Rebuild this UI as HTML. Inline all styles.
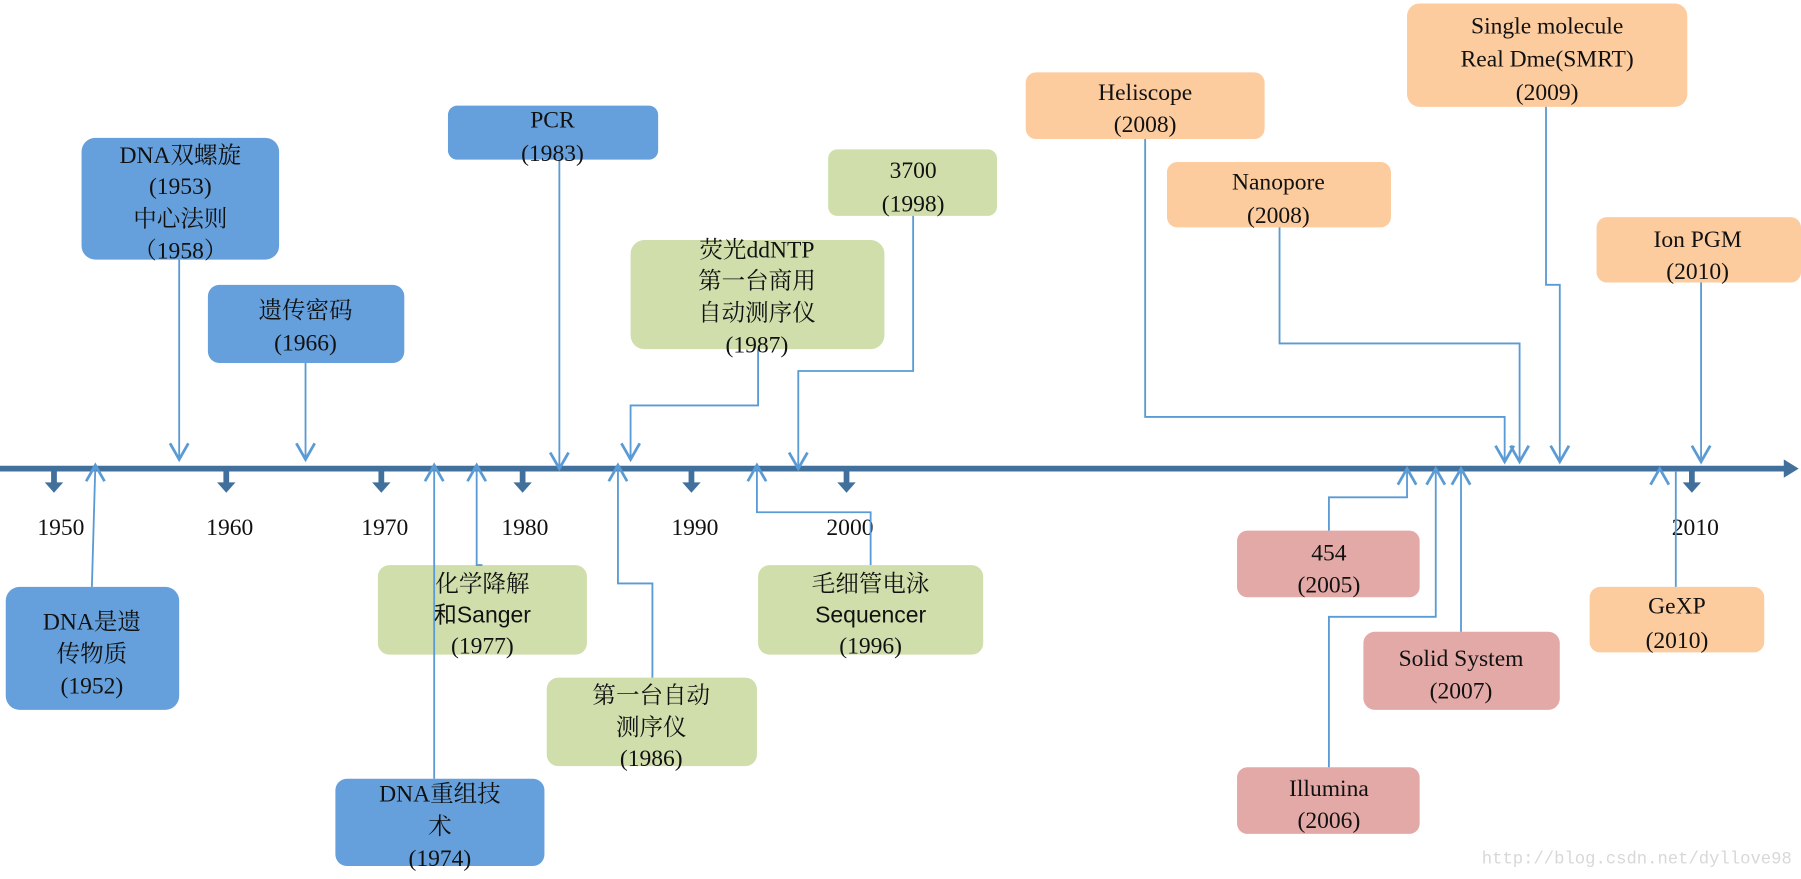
<!DOCTYPE html>
<html><head><meta charset="utf-8">
<style>
html,body{margin:0;padding:0;background:#fff;}
svg{display:block;}
.s{font-family:"Liberation Serif","Noto Serif CJK SC","Noto Sans CJK SC",serif;font-size:20.5px;fill:#111;text-anchor:middle;}
.c{font-family:"Liberation Sans","Noto Sans CJK SC",sans-serif;font-size:20px;fill:#111;text-anchor:middle;}
.ln{fill:none;stroke:#5b9bd5;stroke-width:1.6;}
.ah{fill:none;stroke:#5b9bd5;stroke-width:2.4;}
</style></head>
<body>
<svg width="1801" height="879" viewBox="0 0 1568 765.3" preserveAspectRatio="none" xmlns="http://www.w3.org/2000/svg">
<rect width="1568" height="766" fill="#fff"/>
<g>
<rect x="71" y="120" width="172" height="106" rx="12" fill="#65a0dc"/>
<rect x="181" y="248" width="171" height="68" rx="10" fill="#65a0dc"/>
<rect x="390" y="92" width="183" height="47" rx="8" fill="#65a0dc"/>
<rect x="5" y="511" width="151" height="107" rx="12" fill="#65a0dc"/>
<rect x="292" y="678" width="182" height="76" rx="10" fill="#65a0dc"/>
<rect x="329" y="492" width="182" height="78" rx="10" fill="#d0deac"/>
<rect x="476" y="590" width="183" height="77" rx="10" fill="#d0deac"/>
<rect x="549" y="209" width="221" height="95" rx="12" fill="#d0deac"/>
<rect x="721" y="130" width="147" height="58" rx="8" fill="#d0deac"/>
<rect x="660" y="492" width="196" height="78" rx="10" fill="#d0deac"/>
<rect x="893" y="63" width="208" height="58" rx="9" fill="#fccb9e"/>
<rect x="1016" y="141" width="195" height="57" rx="9" fill="#fccb9e"/>
<rect x="1225" y="3" width="244" height="90" rx="11" fill="#fccb9e"/>
<rect x="1390" y="189" width="178" height="57" rx="9" fill="#fccb9e"/>
<rect x="1384" y="511" width="152" height="57" rx="9" fill="#fccb9e"/>
<rect x="1077" y="462" width="159" height="58" rx="9" fill="#e3a9a7"/>
<rect x="1187" y="550" width="171" height="68" rx="10" fill="#e3a9a7"/>
<rect x="1077" y="668" width="159" height="58" rx="9" fill="#e3a9a7"/>
</g>
<rect x="0" y="405.5" width="1556" height="5" fill="#41709c"/>
<path d="M1553 400 L1566 408 L1553 416 Z" fill="#41709c"/>
<g fill="#41709c">
<g transform="translate(47,0)"><rect x="-2.5" y="410" width="5" height="12"/><path d="M-8 420 L8 420 L0 429 Z"/></g>
<g transform="translate(197,0)"><rect x="-2.5" y="410" width="5" height="12"/><path d="M-8 420 L8 420 L0 429 Z"/></g>
<g transform="translate(332,0)"><rect x="-2.5" y="410" width="5" height="12"/><path d="M-8 420 L8 420 L0 429 Z"/></g>
<g transform="translate(455,0)"><rect x="-2.5" y="410" width="5" height="12"/><path d="M-8 420 L8 420 L0 429 Z"/></g>
<g transform="translate(602,0)"><rect x="-2.5" y="410" width="5" height="12"/><path d="M-8 420 L8 420 L0 429 Z"/></g>
<g transform="translate(737,0)"><rect x="-2.5" y="410" width="5" height="12"/><path d="M-8 420 L8 420 L0 429 Z"/></g>
<g transform="translate(1473,0)"><rect x="-2.5" y="410" width="5" height="12"/><path d="M-8 420 L8 420 L0 429 Z"/></g>
</g>
<g class="s">
<text x="53" y="466">1950</text><text x="200" y="466">1960</text><text x="335" y="466">1970</text>
<text x="457" y="466">1980</text><text x="605" y="466">1990</text><text x="740" y="466">2000</text>
<text x="1476" y="466">2010</text>
</g>
<path class="ln" d="M156 226 V400"/><path class="ah" d="M148 386 L156 400 L164 386"/>
<path class="ln" d="M266 316 V400"/><path class="ah" d="M258 386 L266 400 L274 386"/>
<path class="ln" d="M487 139 V408"/><path class="ah" d="M479 394 L487 408 L495 394"/>
<path class="ln" d="M660 304 V353 H549 V400"/><path class="ah" d="M541 386 L549 400 L557 386"/>
<path class="ln" d="M795 188 V323 H695 V408"/><path class="ah" d="M687 394 L695 408 L703 394"/>
<path class="ln" d="M997 121 V363 H1310 V402"/><path class="ah" d="M1302 388 L1310 402 L1318 388"/>
<path class="ln" d="M1114 198 V299 H1323 V402"/><path class="ah" d="M1315 388 L1323 402 L1331 388"/>
<path class="ln" d="M1346 93 V248 H1358 V402"/><path class="ah" d="M1350 388 L1358 402 L1366 388"/>
<path class="ln" d="M1481 246 V402"/><path class="ah" d="M1473 388 L1481 402 L1489 388"/>
<path class="ln" d="M80 511 L83 405"/><path class="ah" d="M75 419 L83 405 L91 419"/>
<path class="ln" d="M378 678 V405"/><path class="ah" d="M370 419 L378 405 L386 419"/>
<path class="ln" d="M420 492 H415 V405"/><path class="ah" d="M407 419 L415 405 L423 419"/>
<path class="ln" d="M568 590 V508 H538 V405"/><path class="ah" d="M530 419 L538 405 L546 419"/>
<path class="ln" d="M758 492 V446 H659 V405"/><path class="ah" d="M651 419 L659 405 L667 419"/>
<path class="ln" d="M1157 462 V433 H1225 V408"/><path class="ah" d="M1217 422 L1225 408 L1233 422"/>
<path class="ln" d="M1157 668 V537 H1250 V408"/><path class="ah" d="M1242 422 L1250 408 L1258 422"/>
<path class="ln" d="M1272 550 V408"/><path class="ah" d="M1264 422 L1272 408 L1280 422"/>
<path class="ln" d="M1459 511 V410"/><path class="ah" d="M1437 422 L1445 408 L1453 422"/>
<g class="s">
<text x="157" y="142">DNA双螺旋</text><text x="157" y="169">(1953)</text><text x="157" y="197">中心法则</text><text x="157" y="225">（1958）</text>
<text x="266" y="277">遗传密码</text><text x="266" y="305">(1966)</text>
<text x="481" y="111">PCR</text><text x="481" y="140">(1983)</text>
<text x="80" y="548">DNA是遗</text><text x="80" y="576">传物质</text><text x="80" y="604">(1952)</text>
<text x="383" y="698">DNA重组技</text><text x="383" y="726">术</text><text x="383" y="754">(1974)</text>
<text x="420" y="515">化学降解</text><text x="420" y="569">(1977)</text>
<text x="567" y="612">第一台自动</text><text x="567" y="640">测序仪</text><text x="567" y="667">(1986)</text>
<text x="659" y="224">荧光ddNTP</text><text x="659" y="251">第一台商用</text><text x="659" y="279">自动测序仪</text><text x="659" y="307">(1987)</text>
<text x="795" y="155">3700</text><text x="795" y="184">(1998)</text>
<text x="758" y="515">毛细管电泳</text><text x="758" y="569">(1996)</text>
<text x="997" y="87">Heliscope</text><text x="997" y="115">(2008)</text>
<text x="1113" y="165">Nanopore</text><text x="1113" y="194">(2008)</text>
<text x="1347" y="29">Single molecule</text><text x="1347" y="58">Real Dme(SMRT)</text><text x="1347" y="87">(2009)</text>
<text x="1478" y="215">Ion PGM</text><text x="1478" y="243">(2010)</text>
<text x="1460" y="534">GeXP</text><text x="1460" y="564">(2010)</text>
<text x="1157" y="488">454</text><text x="1157" y="516">(2005)</text>
<text x="1272" y="580">Solid System</text><text x="1272" y="608">(2007)</text>
<text x="1157" y="693">Illumina</text><text x="1157" y="721">(2006)</text>
</g>
<g class="c">
<text x="420" y="542">和Sanger</text>
<text x="758" y="542">Sequencer</text>
</g>
<text x="1560" y="752" style="font-family:'Liberation Mono',monospace;font-size:15px;fill:#d8d8d8;text-anchor:end">http://blog.csdn.net/dyllove98</text>
</svg>
</body></html>
